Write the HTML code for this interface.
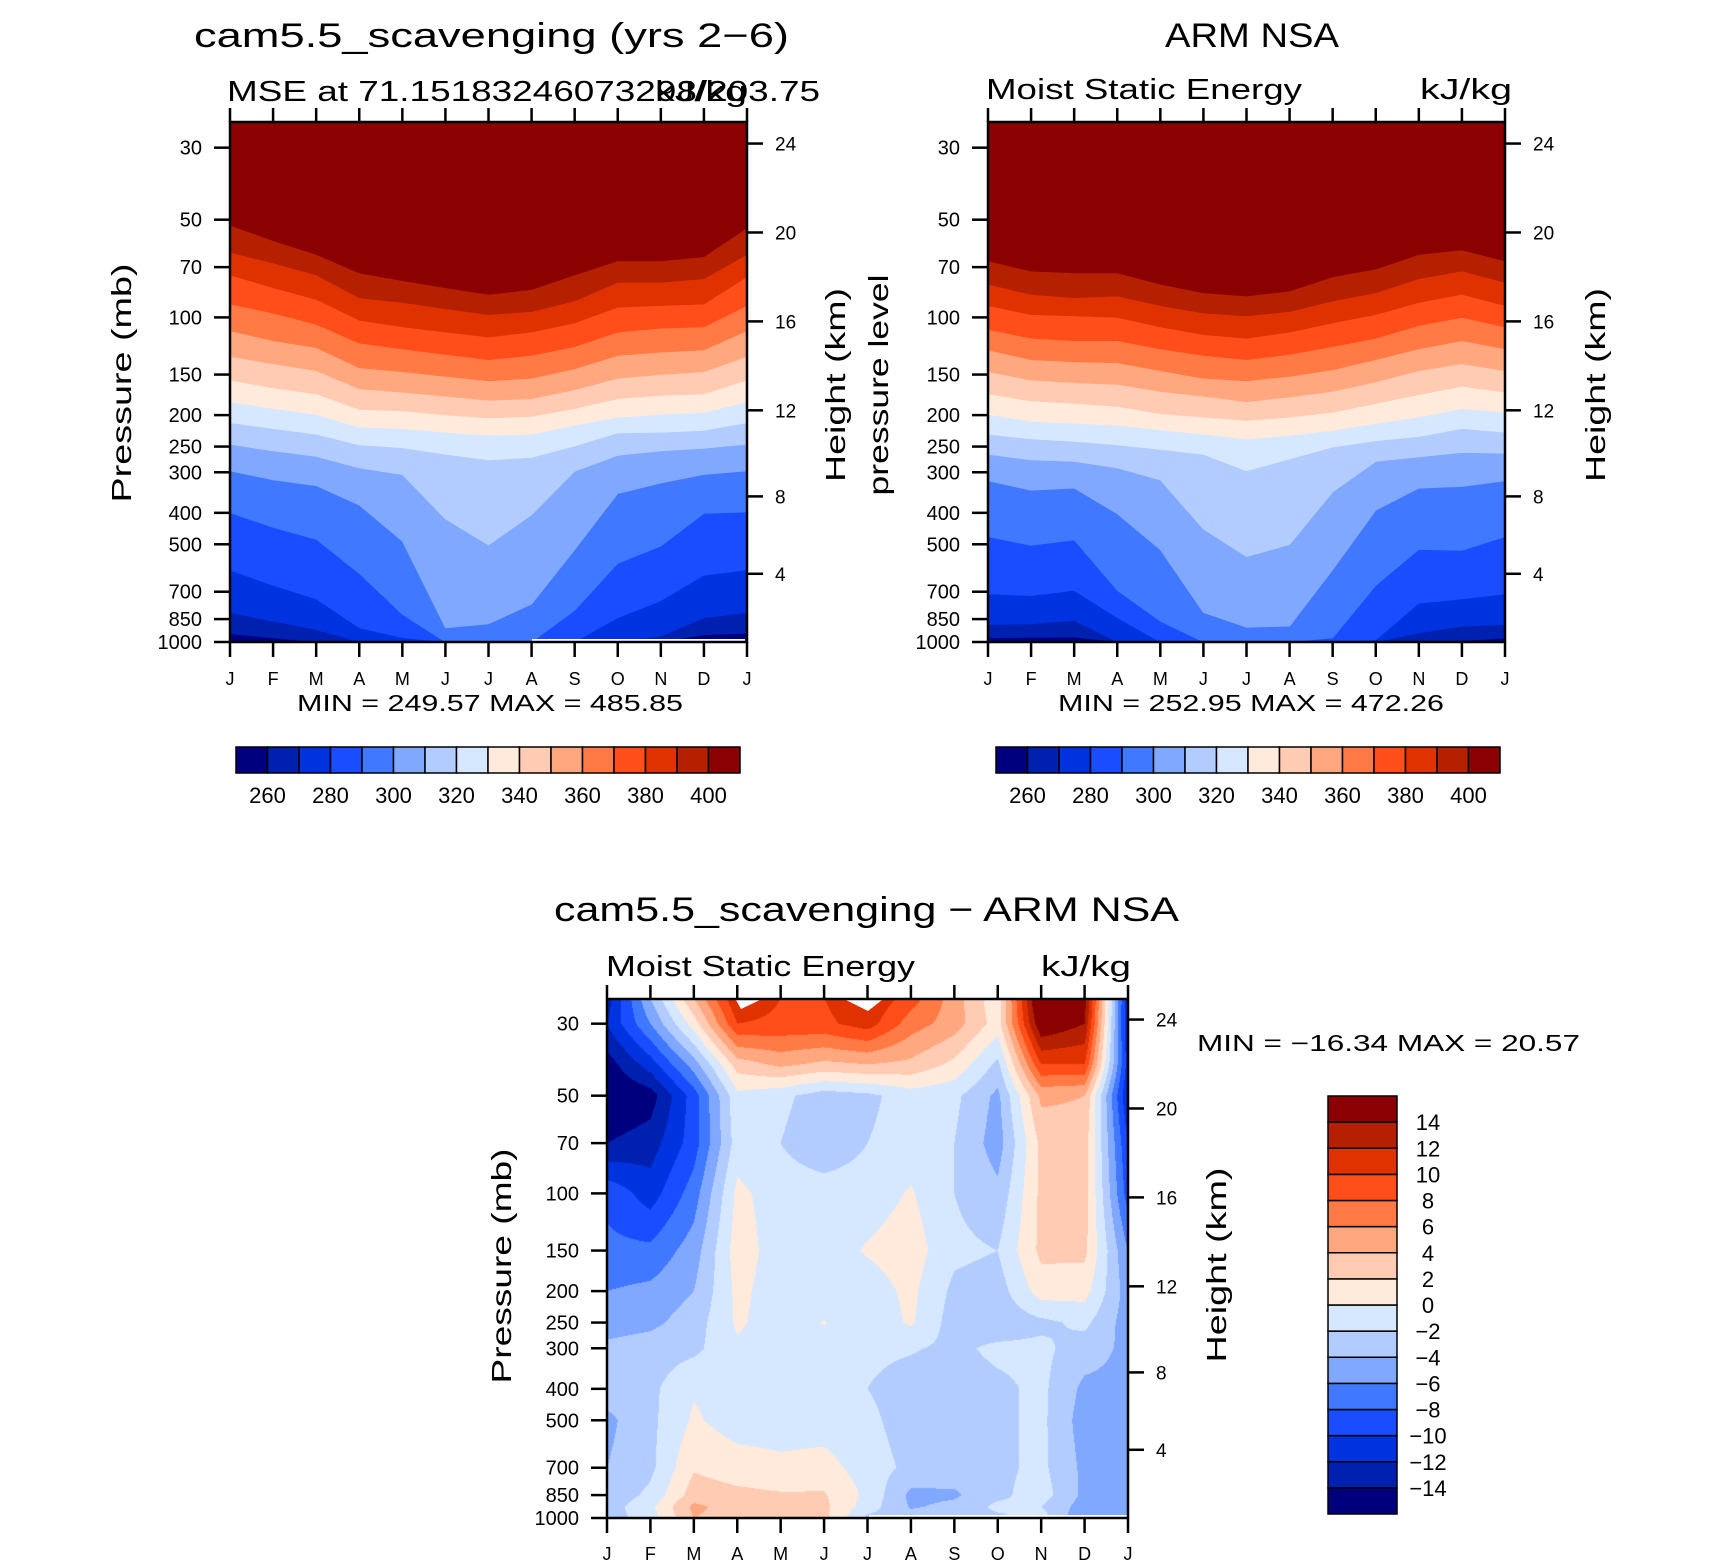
<!DOCTYPE html>
<html><head><meta charset="utf-8">
<style>
html,body{margin:0;padding:0;background:#fff;}
#wrap{position:relative;width:1710px;height:1567px;overflow:hidden;}
#diffCanvas{position:absolute;left:607px;top:999px;}
svg{position:absolute;left:0;top:0;}
text{font-family:"Liberation Sans",sans-serif;fill:#000;}
</style></head>
<body>
<div id="wrap">
<canvas id="diffCanvas" width="521" height="519"></canvas>
<svg id="fig" width="1710" height="1567" viewBox="0 0 1710 1567">
  <text x="194" y="47" font-size="34" textLength="595" lengthAdjust="spacingAndGlyphs">cam5.5_scavenging (yrs 2−6)</text>
  <text x="1165" y="47" font-size="34" textLength="174" lengthAdjust="spacingAndGlyphs">ARM NSA</text>
  <text x="227" y="101" font-size="29" textLength="593" lengthAdjust="spacingAndGlyphs">MSE at 71.15183246073298/203.75</text>
  <text x="655" y="101" font-size="29" textLength="92" lengthAdjust="spacingAndGlyphs">kJ/kg</text>
  <text x="986" y="99" font-size="29" textLength="316" lengthAdjust="spacingAndGlyphs">Moist Static Energy</text>
  <text x="1420" y="99" font-size="29" textLength="92" lengthAdjust="spacingAndGlyphs">kJ/kg</text>
  <text x="554" y="921" font-size="34" textLength="625" lengthAdjust="spacingAndGlyphs">cam5.5_scavenging − ARM NSA</text>
  <text x="606" y="976" font-size="29" textLength="309" lengthAdjust="spacingAndGlyphs">Moist Static Energy</text>
  <text x="1041" y="976" font-size="29" textLength="90" lengthAdjust="spacingAndGlyphs">kJ/kg</text>
  <text x="297" y="711" font-size="23" textLength="386" lengthAdjust="spacingAndGlyphs">MIN = 249.57 MAX = 485.85</text>
  <text x="1058" y="711" font-size="23" textLength="386" lengthAdjust="spacingAndGlyphs">MIN = 252.95 MAX = 472.26</text>
  <text x="1197" y="1051" font-size="23" textLength="383" lengthAdjust="spacingAndGlyphs">MIN = −16.34 MAX =   20.57</text>
  <text transform="translate(131,383) rotate(-90)" font-size="28" text-anchor="middle" textLength="239" lengthAdjust="spacingAndGlyphs">Pressure (mb)</text>
  <text transform="translate(845,385) rotate(-90)" font-size="28" text-anchor="middle" textLength="194" lengthAdjust="spacingAndGlyphs">Height (km)</text>
  <text transform="translate(888,385) rotate(-90)" font-size="28" text-anchor="middle" textLength="221" lengthAdjust="spacingAndGlyphs">pressure level</text>
  <text transform="translate(1605,385) rotate(-90)" font-size="28" text-anchor="middle" textLength="194" lengthAdjust="spacingAndGlyphs">Height (km)</text>
  <text transform="translate(511,1266) rotate(-90)" font-size="28" text-anchor="middle" textLength="235" lengthAdjust="spacingAndGlyphs">Pressure (mb)</text>
  <text transform="translate(1226,1265) rotate(-90)" font-size="28" text-anchor="middle" textLength="195" lengthAdjust="spacingAndGlyphs">Height (km)</text>
</svg>
</div>
<script>
// ---------- data ----------
const months = ["J","F","M","A","M","J","J","A","S","O","N","D","J"];
const pressureTicks = [30,50,70,100,150,200,250,300,400,500,700,850,1000];
const heightTicks = [4,8,12,16,20,24];
const topLevels = [260,270,280,290,300,310,320,330,340,350,360,370,380,390,400];
const topLevelLabels = [260,280,300,320,340,360,380,400];
const diffLevels = [-14,-12,-10,-8,-6,-4,-2,0,2,4,6,8,10,12,14];
const palette = ["#00007f","#0020b0","#0033e0","#1a4dff","#4078ff","#80a8ff","#b3ccff","#d6e8ff","#ffeadb","#ffcbb3","#ffa880","#ff7a45","#ff4e1a","#e03200","#b52000","#8b0000"];

// model (cam5.5) : pressure (mb) of each contour level per month
const cam260 = [943,972,1000,1000,1000,1000,1000,1000,1000,1000,1000,950,940];
const cam270 = [812,863,916,1000,1000,1000,1000,1000,1000,1000,960,842,812];
const cam280 = [600,670,737,905,970,1000,1000,1000,1000,842,746,623,600];
const cam290 = [400,444,483,615,822,1000,1000,1000,800,572,507,402,398];
const cam300 = [297,317,330,379,489,905,880,765,520,349,324,305,297];
const cam310 = [246,258,268,291,305,418,503,406,298,266,258,253,246];
const cam320 = [211,220,229,247,252,264,275,270,249,227,226,223,211];
const cam330 = [182,191,199,218,220,226,231,229,215,203,199,196,182];
const cam340 = [156,165,172,192,194,200,204,202,191,178,174,172,156];
const cam350 = [132,139,146,166,170,175,180,178,167,154,150,147,132];
const cam360 = [110,118,124,143,147,152,157,154,144,131,128,126,110];
const cam370 = [91,97,105,120,125,130,135,131,123,111,108,107,92];
const cam380 = [74,81,88,102,107,111,115,111,104,93,92,91,75];
const cam390 = [63,68,74,87,90,94,98,96,89,78,78,76,64];
const cam400 = [52,58,64,73,77,81,85,82,74,67,67,65,53];

// observations (ARM NSA)
const arm260 = [972,968,966,1000,1000,1000,1000,1000,1000,1000,1000,990,975];
const arm270 = [884,880,859,1000,1000,1000,1000,1000,1000,1000,939,894,884];
const arm280 = [711,720,694,842,1000,1000,1000,1000,1000,985,760,737,711];
const arm290 = [474,504,485,694,863,1000,1000,1000,972,670,519,522,474];
const arm300 = [319,341,336,403,520,812,901,894,600,393,336,332,319];
const arm310 = [264,275,278,291,317,449,546,501,345,278,269,261,262];
const arm320 = [229,237,241,247,255,264,297,273,251,240,233,220,226];
const arm330 = [199,209,212,215,222,229,237,231,223,212,203,191,196];
const arm340 = [172,181,184,188,198,203,208,203,196,184,173,163,170];
const arm350 = [147,156,159,161,169,175,182,176,169,158,146,139,146];
const arm360 = [126,135,137,138,146,154,157,152,145,135,125,118,125];
const arm370 = [109,116,118,118,125,131,135,130,123,116,106,100,107];
const arm380 = [92,98,99,100,107,113,116,111,104,98,90,85,92];
const arm390 = [79,85,87,86,92,97,99,96,89,84,76,72,78];
const arm400 = [67,72,73,73,79,84,86,83,75,71,64,62,67];

// difference field (kJ/kg) on pressure levels x months
const diffPressures = [25,30,40,50,70,100,150,200,250,300,400,500,700,850,925,1000];
const d25   = [-13,-4,4,12,10,10,12,9,5,0.5,18,15,-12];
const d30   = [-12,-6,1,10,9.5,9.5,11,7,5,1,16,14,-12];
const d40   = [-15,-11,-5,3,4.5,3.5,4,3.5,1.5,-2.5,10,10,-11];
const d50   = [-16,-15,-9,-0.5,-1.5,-3,-2.5,-1,-1.5,-4.5,4.5,4,-12];
const d70   = [-14,-13,-9,-1,-2,-3.5,-2,-1,-2,-5,2.5,3,-10];
const d100  = [-8.5,-11,-7,0.5,-1,-1,-1,0.2,-2,-3.5,2.5,3,-9];
const d150  = [-7.5,-7.5,-5,1,-1,-1,0.2,1,-1.5,-2,2.5,2.5,-6];
const d200  = [-6,-5.5,-4,0.5,-1,-1,-1,0.5,-2.5,-3,1,0.8,-5];
const d250  = [-5,-4.5,-3,0.3,-1,0.1,-1.5,0.3,-3,-3.5,-2.5,-1.5,-5];
const d300  = [-3.5,-3,-2.5,-0.3,-1,-1,-1.5,-1.8,-2.5,-1.5,-1.5,-3,-4.5];
const d400  = [-3,-2.5,-0.2,-1,-1,-1,-2,-3,-3,-2.5,-1.5,-4.5,-4.5];
const d500  = [-4.5,-2.5,0.3,-1,-1,-1,-1.5,-3,-3.5,-2.5,-1.5,-5,-4.5];
const d700  = [-4,-2.5,1.8,1,0.5,0.8,-1,-2.5,-3,-2.5,-1.5,-4.5,-4];
const d850  = [-3.5,-1.5,3,2.5,2.2,2.2,-0.5,-4.5,-4.3,-2.5,-1,-4.5,-5];
const d925  = [-3,-0.5,4.5,3,2.5,2.5,-1,-4.2,-3.5,-1.5,-2,-5,-5];
const d1000 = [-3,-1,4,3,2.5,2.5,-2.5,-3,-3,-2.5,-1,-6,-6];

const camBounds = [cam260,cam270,cam280,cam290,cam300,cam310,cam320,cam330,cam340,cam350,cam360,cam370,cam380,cam390,cam400];
const armBounds = [arm260,arm270,arm280,arm290,arm300,arm310,arm320,arm330,arm340,arm350,arm360,arm370,arm380,arm390,arm400];
const diffRows = [d25,d30,d40,d50,d70,d100,d150,d200,d250,d300,d400,d500,d700,d850,d925,d1000];

// ---------- helpers ----------
const NS = "http://www.w3.org/2000/svg";
const svg = document.getElementById("fig");
function el(tag, attrs, parent){
  const e = document.createElementNS(NS, tag);
  for (const k in attrs) e.setAttribute(k, attrs[k]);
  (parent || svg).appendChild(e);
  return e;
}
const K = 324.6;
function makePlot(x0, x1, y0, y1){
  return {
    x0, x1, y0, y1,
    xm: m => x0 + m * (x1 - x0) / 12,
    yp: p => y1 - (3 - Math.log10(p)) * K
  };
}
function zToP(zkm){
  const z = zkm * 1000;
  if (z <= 11000) return 1013.25 * Math.pow(1 - 2.25577e-5 * z, 5.25588);
  return 226.32 * Math.exp(-(z - 11000) / 6341.6);
}

function drawBands(P, bounds, name){
  const g = el("g", {});
  
  
  const clipId = name + "-clip";
  const cp = el("clipPath", {id: clipId});
  el("rect", {x: P.x0, y: P.y0, width: P.x1 - P.x0, height: P.y1 - P.y0}, cp);
  g.setAttribute("clip-path", "url(#" + clipId + ")");
  const base = el("rect", {x: P.x0, y: P.y0, width: P.x1 - P.x0, height: P.y1 - P.y0 + 2, fill: palette[0]}, g);
  
  
  bounds.forEach((arr, k) => {
    const pts = arr.map((p, m) => P.xm(m).toFixed(1) + "," + Math.min(P.yp(p), P.y1 + 2).toFixed(1));
    pts.push(P.x1 + "," + (P.y0 - 2), P.x0 + "," + (P.y0 - 2));
    const poly = el("polygon", {points: pts.join(" "), fill: palette[k + 1], stroke: palette[k + 1], "stroke-width": 0.6}, g);
    
    
  });
  return g;
}

function drawAxes(P, name, monthLabelY){
  const g = el("g", {});
  
  
  months.forEach((mo, m) => {
    const x = P.xm(m);
    el("line", {x1: x, x2: x, y1: P.y0, y2: P.y0 - 14, stroke: "#000", "stroke-width": 2.5}, g);
    el("line", {x1: x, x2: x, y1: P.y1, y2: P.y1 + 15, stroke: "#000", "stroke-width": 2.5}, g);
    const t = el("text", {x: x, y: monthLabelY, "font-size": 18, "text-anchor": "middle"}, g);
    t.textContent = mo;
    
    
  });
  pressureTicks.forEach(p => {
    const y = P.yp(p);
    el("line", {x1: P.x0 - 16, x2: P.x0, y1: y, y2: y, stroke: "#000", "stroke-width": 2.5}, g);
    const t = el("text", {x: P.x0 - 28, y: y + 7, "font-size": 20, "text-anchor": "end"}, g);
    t.textContent = p;
    
    
  });
  heightTicks.forEach(z => {
    const y = P.yp(zToP(z));
    el("line", {x1: P.x1, x2: P.x1 + 16, y1: y, y2: y, stroke: "#000", "stroke-width": 2.5}, g);
    const t = el("text", {x: P.x1 + 28, y: y + 7, "font-size": 19}, g);
    t.textContent = z;
    
    
  });
  const fr = el("rect", {x: P.x0, y: P.y0, width: P.x1 - P.x0, height: P.y1 - P.y0, fill: "none", stroke: "#000", "stroke-width": 2.5}, g);
  
  
}

function hColorbar(x0, x1, y0, y1, name){
  const g = el("g", {});
  
  
  const w = (x1 - x0) / palette.length;
  palette.forEach((c, i) => {
    const r = el("rect", {x: x0 + i * w, y: y0, width: w, height: y1 - y0, fill: c, stroke: "#000", "stroke-width": 1.5}, g);
    
    
  });
  topLevelLabels.forEach(v => {
    const i = topLevels.indexOf(v) + 1;
    const t = el("text", {x: x0 + i * w, y: y1 + 30, "font-size": 22, "text-anchor": "middle"}, g);
    t.textContent = v;
    
    
  });
}

function vColorbar(x0, x1, y0, y1, name){
  const g = el("g", {});
  
  
  const h = (y1 - y0) / palette.length;
  palette.forEach((c, i) => {
    const r = el("rect", {x: x0, y: y0 + (palette.length - 1 - i) * h, width: x1 - x0, height: h, fill: c, stroke: "#000", "stroke-width": 1.5}, g);
    
    
  });
  diffLevels.forEach((v, i) => {
    const y = y1 - (i + 1) * h;
    const t = el("text", {x: x1 + 31, y: y + 8, "font-size": 22, "text-anchor": "middle"}, g);
    t.textContent = v < 0 ? "\u2212" + Math.abs(v) : String(v);
    
    
  });
}

// ---------- top panels ----------
const P1 = makePlot(230, 747, 122, 642);
const P2 = makePlot(988, 1505, 122, 642);
drawBands(P1, camBounds, "model");
drawBands(P2, armBounds, "obs");
const miss1 = el("line", {x1: 532, x2: 745, y1: 640, y2: 640, stroke: "#fff", "stroke-width": 2});


drawAxes(P1, "model-panel", 685);
drawAxes(P2, "obs-panel", 685);
hColorbar(236, 740, 747, 773, "model-colorbar");
hColorbar(996, 1500, 747, 773, "obs-colorbar");

// ---------- difference panel (canvas contour fill) ----------
const P3 = makePlot(607, 1128, 999, 1518);
(function(){
  const cv = document.getElementById("diffCanvas");
  const W = cv.width, H = cv.height;
  const ctx = cv.getContext("2d");
  const img = ctx.createImageData(W, H);
  const rgb = palette.map(c => [parseInt(c.substr(1,2),16), parseInt(c.substr(3,2),16), parseInt(c.substr(5,2),16)]);
  const lp = diffPressures.map(p => Math.log10(p));
  for (let py = 0; py < H; py++){
    const Y = P3.y0 + py + 0.5;
    const L = 3 - (P3.y1 - Y) / K;
    let r = 0;
    while (r < lp.length - 2 && lp[r + 1] < L) r++;
    let fy = (L - lp[r]) / (lp[r + 1] - lp[r]);
    fy = Math.max(0, Math.min(1, fy));
    const rowA = diffRows[r], rowB = diffRows[r + 1];
    for (let px = 0; px < W; px++){
      const mf = (px + 0.5) / W * 12;
      let c = Math.min(11, Math.floor(mf));
      const fx = mf - c;
      const v = (rowA[c] * (1 - fx) + rowA[c + 1] * fx) * (1 - fy) + (rowB[c] * (1 - fx) + rowB[c + 1] * fx) * fy;
      let idx = Math.floor((v + 16) / 2);
      idx = Math.max(0, Math.min(15, idx));
      const o = (py * W + px) * 4;
      img.data[o] = rgb[idx][0]; img.data[o+1] = rgb[idx][1]; img.data[o+2] = rgb[idx][2]; img.data[o+3] = 255;
    }
  }
  ctx.putImageData(img, 0, 0);
})();
const miss2 = el("line", {x1: 869, x2: 1127, y1: 1516, y2: 1516, stroke: "#fff", "stroke-width": 2});


const miss3 = el("polygon", {points: "736,1000 760,1000 741,1009", fill: "#fff"});


const miss4 = el("polygon", {points: "846,1000 882,1000 868,1011", fill: "#fff"});


drawAxes(P3, "diff-panel", 1560);
vColorbar(1328, 1397, 1096, 1514, "diff-colorbar");
</script>
</body></html>
